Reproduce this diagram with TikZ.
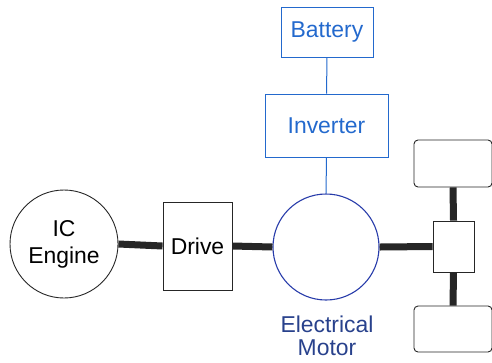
\documentclass[tikz,border=0pt]{standalone}
\usepackage{fontspec}
\setmainfont{Liberation Sans}
\definecolor{eblue}{RGB}{35,105,205}
\definecolor{mblue}{RGB}{40,60,170}
\definecolor{tblue}{RGB}{40,65,140}
\begin{document}
\begin{tikzpicture}[x=1bp,y=-1bp,
  lbl/.style={font=\fontsize{23}{26}\selectfont},
  blk/.style={draw=black!85,line width=0.9bp,fill=white},
  ebox/.style={draw=eblue,line width=0.9bp,text=eblue,lbl},
  shaft/.style={line width=7bp,black!85},
  wire/.style={eblue,line width=1bp}]
\useasboundingbox (0,0) rectangle (492,362);
\node[blk,circle,minimum size=108bp,inner sep=0pt,align=center,lbl,font=\fontsize{23}{27}\selectfont] (ice) at (64,244) {IC\\Engine};
\node[blk,minimum width=69bp,minimum height=88bp,inner sep=0pt,lbl] (drive) at (197.5,246) {Drive};
\node[circle,draw=mblue,line width=1.1bp,minimum size=106bp,inner sep=0pt] (motor) at (326,247) {};
\node[ebox,minimum width=92bp,minimum height=50bp,inner sep=0pt] (bat) at (327,32) {Battery};
\node[ebox,minimum width=123bp,minimum height=63bp,inner sep=0pt] (inv) at (326.5,125.5) {Inverter};
\node[blk,minimum width=41bp,minimum height=51bp,inner sep=0pt] (diff) at (453.5,246.5) {};
\node[blk,rounded corners=4bp,minimum width=78bp,minimum height=47bp,inner sep=0pt] (w1) at (453,163.5) {};
\node[blk,rounded corners=4bp,minimum width=78bp,minimum height=46bp,inner sep=0pt] (w2) at (453,329) {};
\node[text=tblue,align=center,lbl,font=\fontsize{23}{23}\selectfont] (mlab) at (327,336) {Electrical\\Motor};
\draw[wire] (bat.south) -- (inv.north);
\draw[wire] (inv.south) -- (motor.north);
\draw[shaft] (ice.east) -- (drive.west);
\draw[shaft] (drive.east) -- (motor.west);
\draw[shaft] (motor.east) -- (diff.west);
\draw[shaft] (w1.south) -- (diff.north);
\draw[shaft] (diff.south) -- (w2.north);
\end{tikzpicture}
\end{document}
